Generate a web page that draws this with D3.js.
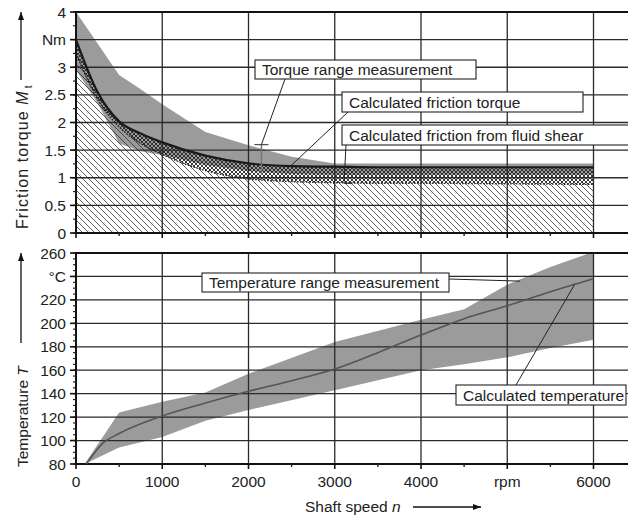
<!DOCTYPE html>
<html>
<head>
<meta charset="utf-8">
<script src="https://cdn.jsdelivr.net/npm/d3@7"></script>
<style>
  body { margin: 0; background: #fff; }
  text { font-family: "Liberation Sans", Arial, sans-serif; fill: #222; }
</style>
</head>
<body>
<div id="chart"></div>
<script>
// ---- data ----
var xTicks = [0, 1000, 2000, 3000, 4000, 5000, 6000];
var xTickLabels = ["0", "1000", "2000", "3000", "4000", "rpm", "6000"];
var xMinorTicks = [500, 1500, 2500, 3500, 4500, 5500];

var torqueTicks = [0, 0.5, 1, 1.5, 2, 2.5, 3, 3.5, 4];
var torqueTickLabels = ["0", "0.5", "1", "1.5", "2", "2.5", "3", "Nm", "4"];
var tempTicks = [80, 100, 120, 140, 160, 180, 200, 220, 240, 260];
var tempTickLabels = ["80", "100", "120", "140", "160", "180", "200", "220", "°C", "260"];

var torqueSpeed = [0, 250, 500, 750, 1000, 1500, 2000, 2500, 3000, 3500, 4000, 5000, 6000];
var torqueHigh = [4.0, 3.43, 2.86, 2.6, 2.33, 1.83, 1.59, 1.38, 1.26, 1.26, 1.26, 1.26, 1.26];
var torqueLow = [2.95, 2.35, 1.62, 1.48, 1.41, 1.23, 1.12, 1.07, 1.05, 1.05, 1.05, 1.05, 1.05];
var frictionTorque = [3.5, 2.55, 2.02, 1.8, 1.64, 1.4, 1.26, 1.21, 1.2, 1.19, 1.19, 1.19, 1.19];
var fluidShear = [3.25, 2.42, 1.92, 1.62, 1.42, 1.13, 0.98, 0.93, 0.91, 0.9, 0.9, 0.89, 0.88];

var rangeMarker = { speed: 2150, low: 1.05, high: 1.6 };

var bandSpeed = [100, 500, 1000, 1500, 2000, 3000, 4000, 4500, 5000, 5500, 6000];
var tempHigh = [80, 124, 133, 141, 157, 184, 203, 212, 233, 248, 261];
var tempLow = [80, 94, 103, 117, 126, 143, 160, 165, 171, 179, 186];

var tempSpeed = [120, 300, 500, 1000, 1500, 2000, 2500, 3000, 3500, 4000, 4500, 5000, 5500, 6000];
var calcTemp = [80, 97, 106, 121, 132, 142, 151, 161, 175, 190, 204, 215, 227, 238];

// ---- layout ----
var W = 628, H = 516;
var left = 76, right = 628;

var svg = d3.select("#chart").append("svg")
  .attr("width", W)
  .attr("height", H);

var defs = svg.append("defs");

defs.append("pattern")
  .attr("id", "hatch")
  .attr("patternUnits", "userSpaceOnUse")
  .attr("width", 6).attr("height", 6)
  .append("path")
  .attr("d", "M0,0L6,6M-1,5L1,7M5,-1L7,1")
  .style("stroke", "#333")
  .style("stroke-width", 0.8);

defs.append("pattern")
  .attr("id", "cross")
  .attr("patternUnits", "userSpaceOnUse")
  .attr("width", 4).attr("height", 4)
  .append("path")
  .attr("d", "M0,0L4,4M-1,3L1,5M3,-1L5,1M0,4L4,0M-1,1L1,-1M3,5L5,3")
  .style("stroke", "#222")
  .style("stroke-width", 0.9);

var x = d3.scaleLinear().domain([0, 6400]).range([left, right]);
var yT = d3.scaleLinear().domain([0, 4]).range([233, 12]);
var yC = d3.scaleLinear().domain([80, 260]).range([464, 253]);

function zip(xs, ys) {
  return xs.map(function(d, i) { return [d, ys[i]]; });
}

function band(xs, hi, lo) {
  return xs.map(function(d, i) { return { s: d, hi: hi[i], lo: lo[i] }; });
}

// ---- top panel: friction torque ----
var topG = svg.append("g");

topG.append("path")
  .datum(band(torqueSpeed, torqueHigh, torqueLow))
  .attr("d", d3.area()
    .x(function(d) { return x(d.s); })
    .y0(function(d) { return yT(d.lo); })
    .y1(function(d) { return yT(d.hi); }))
  .style("fill", "#9b9b9b");

topG.append("path")
  .datum(zip(torqueSpeed, fluidShear))
  .attr("d", d3.area().curve(d3.curveMonotoneX)
    .x(function(d) { return x(d[0]); })
    .y0(yT(0))
    .y1(function(d) { return yT(d[1]); }))
  .style("fill", "url(#hatch)");

topG.append("path")
  .datum(band(torqueSpeed, frictionTorque, fluidShear))
  .attr("d", d3.area().curve(d3.curveMonotoneX)
    .x(function(d) { return x(d.s); })
    .y0(function(d) { return yT(d.lo); })
    .y1(function(d) { return yT(d.hi); }))
  .style("fill", "url(#cross)");

// ---- bottom panel: temperature ----
var botG = svg.append("g");

botG.append("path")
  .datum(band(bandSpeed, tempHigh, tempLow))
  .attr("d", d3.area()
    .x(function(d) { return x(d.s); })
    .y0(function(d) { return yC(d.lo); })
    .y1(function(d) { return yC(d.hi); }))
  .style("fill", "#9b9b9b");

// ---- grid ----
function grid(g, y, ticks) {
  g.selectAll(".hg").data(ticks).enter().append("line")
    .attr("x1", left).attr("x2", right)
    .attr("y1", function(d) { return y(d); })
    .attr("y2", function(d) { return y(d); })
    .style("stroke", "#2a2a2a").style("stroke-width", 1.3);
  g.selectAll(".vg").data(xTicks.slice(1)).enter().append("line")
    .attr("x1", function(d) { return x(d); })
    .attr("x2", function(d) { return x(d); })
    .attr("y1", y.range()[0]).attr("y2", y.range()[1])
    .style("stroke", "#2a2a2a").style("stroke-width", 1.3);
  // frame
  g.append("line")
    .attr("x1", left).attr("x2", right)
    .attr("y1", y.range()[1]).attr("y2", y.range()[1])
    .style("stroke", "#111").style("stroke-width", 2);
  g.append("line")
    .attr("x1", left).attr("x2", right)
    .attr("y1", y.range()[0]).attr("y2", y.range()[0])
    .style("stroke", "#111").style("stroke-width", 2);
  g.append("line")
    .attr("x1", left).attr("x2", left)
    .attr("y1", y.range()[0] + 1).attr("y2", y.range()[1] - 1)
    .style("stroke", "#111").style("stroke-width", 2);
}

grid(topG, yT, torqueTicks);
grid(botG, yC, tempTicks);

// ---- curves ----
var lineT = d3.line().curve(d3.curveMonotoneX)
  .x(function(d) { return x(d[0]); })
  .y(function(d) { return yT(d[1]); });

topG.append("path")
  .datum(zip(torqueSpeed, fluidShear))
  .attr("d", lineT)
  .style("fill", "none")
  .style("stroke", "#222")
  .style("stroke-width", 1.4)
  .style("stroke-dasharray", "1.5,1.5");

topG.append("path")
  .datum(zip(torqueSpeed, frictionTorque))
  .attr("d", lineT)
  .style("fill", "none")
  .style("stroke", "#1a1a1a")
  .style("stroke-width", 2.2);

// torque range marker
topG.append("line")
  .attr("x1", x(rangeMarker.speed)).attr("x2", x(rangeMarker.speed))
  .attr("y1", yT(rangeMarker.high)).attr("y2", yT(rangeMarker.low))
  .style("stroke", "#777").style("stroke-width", 1.5);
topG.append("line")
  .attr("x1", x(rangeMarker.speed) - 7).attr("x2", x(rangeMarker.speed) + 7)
  .attr("y1", yT(rangeMarker.high)).attr("y2", yT(rangeMarker.high))
  .style("stroke", "#555").style("stroke-width", 1.3);

botG.append("path")
  .datum(zip(tempSpeed, calcTemp))
  .attr("d", d3.line().curve(d3.curveMonotoneX)
    .x(function(d) { return x(d[0]); })
    .y(function(d) { return yC(d[1]); }))
  .style("fill", "none")
  .style("stroke", "#555")
  .style("stroke-width", 1.6);

// ---- axes ----
function yAxis(g, y, ticks, labels, minorStep) {
  var minor = d3.range(y.domain()[0], y.domain()[1] + 1e-9, minorStep);
  g.selectAll(".mt").data(minor).enter().append("line")
    .attr("x1", left - 3).attr("x2", left)
    .attr("y1", function(d) { return y(d); })
    .attr("y2", function(d) { return y(d); })
    .style("stroke", "#222").style("stroke-width", 1.2);
  g.selectAll(".Mt").data(ticks).enter().append("line")
    .attr("x1", left - 6).attr("x2", left)
    .attr("y1", function(d) { return y(d); })
    .attr("y2", function(d) { return y(d); })
    .style("stroke", "#111").style("stroke-width", 1.6);
  g.selectAll(".tl").data(ticks).enter().append("text")
    .attr("x", left - 10)
    .attr("y", function(d) { return y(d); })
    .attr("dy", "0.36em")
    .attr("text-anchor", "end")
    .style("font-size", "15.5px")
    .text(function(d, i) { return labels[i]; });
}

function xAxisTicks(g, y0) {
  g.selectAll(".xm").data(xMinorTicks).enter().append("line")
    .attr("x1", function(d) { return x(d); })
    .attr("x2", function(d) { return x(d); })
    .attr("y1", y0).attr("y2", y0 + 3)
    .style("stroke", "#222").style("stroke-width", 1.4);
  g.selectAll(".xM").data(xTicks).enter().append("line")
    .attr("x1", function(d) { return x(d); })
    .attr("x2", function(d) { return x(d); })
    .attr("y1", y0).attr("y2", y0 + 5)
    .style("stroke", "#111").style("stroke-width", 1.6);
}

yAxis(topG, yT, torqueTicks, torqueTickLabels, 0.25);
yAxis(botG, yC, tempTicks, tempTickLabels, 5);
xAxisTicks(topG, 233);
xAxisTicks(botG, 464);

botG.selectAll(".xl").data(xTicks).enter().append("text")
  .attr("x", function(d) { return x(d); })
  .attr("y", 487)
  .attr("text-anchor", "middle")
  .style("font-size", "15.5px")
  .text(function(d, i) { return xTickLabels[i]; });

// ---- axis titles with arrows ----
function arrow(x1, y1, x2, y2) {
  svg.append("line")
    .attr("x1", x1).attr("y1", y1).attr("x2", x2).attr("y2", y2)
    .style("stroke", "#111").style("stroke-width", 1.3);
  var a = Math.atan2(y2 - y1, x2 - x1), L = 8, s = 3;
  var bx = x2 - L * Math.cos(a), by = y2 - L * Math.sin(a);
  svg.append("path")
    .attr("d", "M" + x2 + "," + y2 +
      "L" + (bx + s * Math.sin(a)) + "," + (by - s * Math.cos(a)) +
      "L" + (bx - s * Math.sin(a)) + "," + (by + s * Math.cos(a)) + "Z")
    .style("fill", "#111");
}

var t1 = svg.append("text")
  .attr("transform", "translate(28,229) rotate(-90)")
  .style("font-size", "16px")
  .style("letter-spacing", "1.1px");
t1.append("tspan").text("Friction torque ");
t1.append("tspan").style("font-style", "italic").text("M");
t1.append("tspan").attr("dy", 4).attr("dx", 2).style("font-size", "10px").text("t");
arrow(21, 80, 21, 12);

var t2 = svg.append("text")
  .attr("transform", "translate(28,467) rotate(-90)")
  .style("font-size", "15.5px");
t2.append("tspan").text("Temperature ");
t2.append("tspan").style("font-style", "italic").text("T");
arrow(21, 343, 21, 253);

var t3 = svg.append("text")
  .attr("x", 305).attr("y", 512)
  .style("font-size", "15.5px");
t3.append("tspan").text("Shaft speed ");
t3.append("tspan").style("font-style", "italic").text("n");
arrow(413, 507, 481, 507);

// ---- annotation boxes ----
function note(box, label, pts) {
  svg.append("polyline")
    .attr("points", pts.map(function(p) { return p.join(","); }).join(" "))
    .style("fill", "none").style("stroke", "#222").style("stroke-width", 1);
  svg.append("rect")
    .attr("x", box[0]).attr("y", box[1])
    .attr("width", box[2]).attr("height", box[3])
    .style("fill", "#fff").style("stroke", "#222").style("stroke-width", 1.1);
  svg.append("text")
    .attr("x", box[0] + 7).attr("y", box[1] + box[3] - 4)
    .style("font-size", "15.5px")
    .text(label);
}

note([255, 60, 221, 19], "Torque range measurement",
  [[285, 79], [x(rangeMarker.speed), yT(rangeMarker.high)]]);
note([342, 92, 241, 20], "Calculated friction torque",
  [[348, 112], [x(2480), yT(1.2)]]);
note([342, 125, 290, 20], "Calculated friction from fluid shear",
  [[346, 145], [344, yT(0.9)], [352, yT(0.9)]]);
note([202, 273, 247, 19], "Temperature range measurement",
  [[449, 279], [x(5150), yC(236)]]);
note([456, 385, 170, 20], "Calculated temperature",
  [[516, 385], [x(5780), yC(233)]]);
</script>
</body>
</html>
